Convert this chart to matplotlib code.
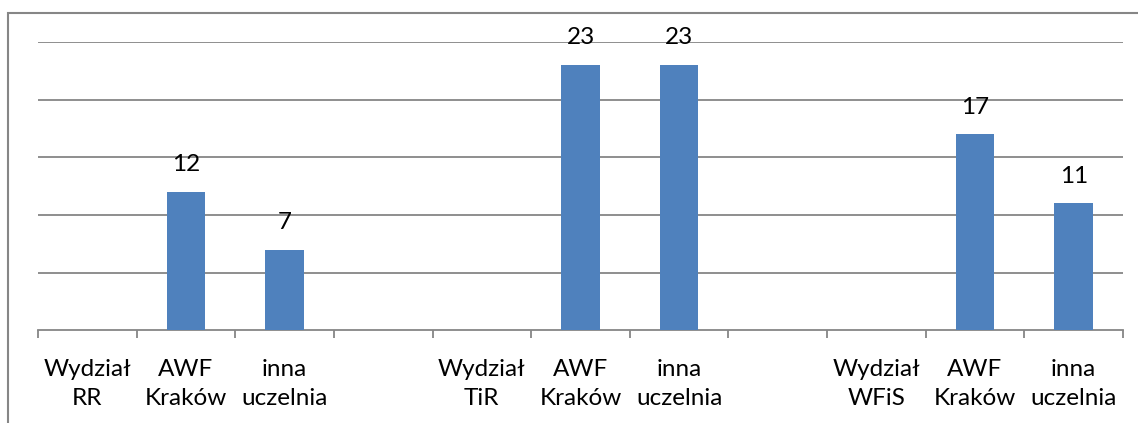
import matplotlib
matplotlib.use("Agg")
import matplotlib.pyplot as plt
from matplotlib.patches import Rectangle

# Category labels (empty strings are spacer categories between groups)
categories = [
    "Wydział\nRR", "AWF\nKraków", "inna\nuczelnia", "",
    "Wydział\nTiR", "AWF\nKraków", "inna\nuczelnia", "",
    "Wydział\nWFiS", "AWF\nKraków", "inna\nuczelnia",
]
# None = no bar / no label
values = [None, 12, 7, None, None, 23, 23, None, None, 17, 11]

W, H = 1138, 423
BAR_COLOR = "#4F81BD"
GRID_COLOR = "#868686"

plt.rcParams["font.family"] = ["Lato", "DejaVu Sans"]

fig = plt.figure(figsize=(W / 100, H / 100), dpi=100)
fig.patch.set_facecolor("white")

# outer chart frame (bottom/right are cut off in the original)
fig.patches.append(Rectangle((8 / W, -0.05), 1.2, (H - 13) / H + 0.05,
                             transform=fig.transFigure, fill=False,
                             edgecolor=GRID_COLOR, linewidth=1.5))

ax = fig.add_axes([38 / W, (H - 330.3) / H, (1123 - 38) / W, (330.3 - 42) / H])

x = list(range(len(categories)))
heights = [v if v is not None else 0 for v in values]
ax.bar(x, heights, width=0.39, color=BAR_COLOR, zorder=3)

for xi, v in zip(x, values):
    if v is not None:
        ax.annotate(str(v), (xi, v), xytext=(0, 19.5), textcoords="offset points",
                    ha="center", va="center", fontsize=17.5, color="black")

ax.set_xlim(-0.5, len(categories) - 0.5)
ax.set_ylim(0, 25)
ax.set_yticks([5, 10, 15, 20, 25])
ax.yaxis.grid(True, color=GRID_COLOR, linewidth=1.3, zorder=0)
ax.tick_params(axis="y", left=False, labelleft=False)

# category ticks at boundaries, labels at centers
ax.set_xticks([i - 0.5 for i in range(len(categories) + 1)])
ax.set_xticklabels([])
ax.set_xticks(x, minor=True)
ax.set_xticklabels(categories, minor=True, fontsize=17.5, linespacing=1.42)
ax.tick_params(axis="x", which="major", length=6, width=1.3, color=GRID_COLOR)
ax.tick_params(axis="x", which="minor", length=0, pad=21)

for side in ["top", "right", "left"]:
    ax.spines[side].set_visible(False)
ax.spines["bottom"].set_color(GRID_COLOR)
ax.spines["bottom"].set_linewidth(1.3)

fig.savefig("out.png", dpi=100)
